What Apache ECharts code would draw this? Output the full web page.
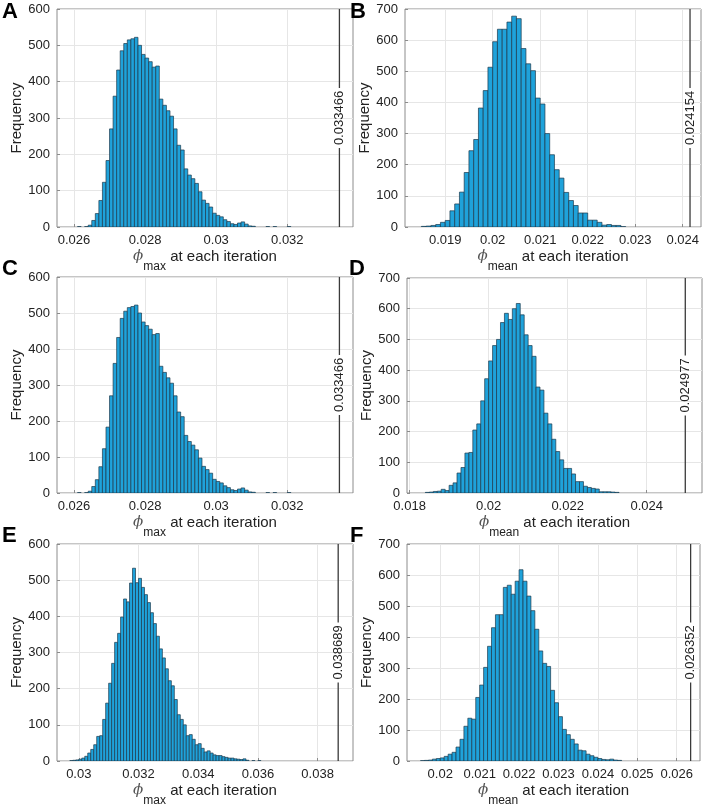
<!DOCTYPE html>
<html lang="en">
<head>
<meta charset="UTF-8">
<title>Histograms</title>
<style>
  html, body { margin: 0; padding: 0; background: #fff; }
  #main { width: 706px; height: 811px; }
</style>
</head>
<body>
<div id="main"></div>
<script src="https://cdn.jsdelivr.net/npm/echarts@6/dist/echarts.min.js"></script>
<script>
// bin width of every histogram
var binWidth = 0.0001;

// A: phi_max
var startA = 0.0261;
var countsA = [1, 0, 1, 5, 18, 37, 73, 123, 183, 270, 360, 432, 485, 505, 515, 518, 522, 500, 475, 465,
  455, 440, 443, 352, 335, 320, 305, 270, 225, 212, 160, 143, 133, 120, 97, 74, 65, 55, 38, 32,
  28, 20, 15, 9, 7, 11, 14, 8, 3, 2, 0, 0, 0, 1, 0, 1, 0, 0, 0, 1];
// B: phi_mean
var startB = 0.0185;
var countsB = [2, 3, 5, 8, 15, 21, 52, 74, 112, 175, 245, 281, 382, 438, 513, 595, 635, 635, 658, 677,
  669, 573, 524, 502, 414, 395, 300, 232, 184, 157, 111, 85, 69, 45, 45, 22, 22, 15, 6, 8, 5, 5, 1];
// C: phi_max
var startC = 0.0261;
var countsC = [1, 0, 1, 5, 18, 37, 73, 123, 183, 270, 360, 432, 485, 505, 515, 518, 522, 500, 475, 465,
  455, 440, 443, 352, 335, 320, 305, 270, 225, 212, 160, 143, 133, 120, 97, 74, 65, 55, 38, 32,
  28, 20, 15, 9, 7, 11, 14, 8, 3, 2, 0, 0, 0, 1, 0, 1, 0, 0, 0, 1];
// D: phi_mean
var startD = 0.0184;
var countsD = [2, 3, 5, 6, 12, 8, 25, 33, 65, 83, 130, 132, 205, 225, 300, 372, 430, 480, 500, 555,
  585, 565, 600, 617, 580, 515, 480, 445, 345, 335, 260, 225, 175, 135, 108, 80, 80, 62, 37, 37,
  22, 18, 15, 13, 4, 4, 4, 3, 2];
// E: phi_max
var startE = 0.0297;
var countsE = [1, 2, 3, 5, 8, 13, 22, 32, 45, 68, 70, 115, 160, 215, 270, 328, 353, 398, 448, 440,
  492, 533, 493, 505, 480, 460, 438, 410, 380, 345, 310, 285, 255, 222, 208, 170, 128, 115, 100, 70,
  73, 60, 45, 48, 35, 25, 28, 22, 17, 15, 15, 12, 10, 8, 8, 6, 5, 4, 6, 2, 0, 1, 0, 1];
// F: phi_mean
var startF = 0.0195;
var countsF = [1, 2, 3, 6, 8, 10, 15, 22, 28, 45, 70, 112, 138, 135, 205, 245, 302, 370, 430, 472,
  472, 560, 567, 538, 580, 617, 580, 532, 485, 425, 355, 315, 305, 228, 188, 143, 102, 85, 70, 55,
  35, 33, 22, 17, 12, 8, 5, 4, 6, 3, 2];

// vertical reference lines
var lineValues = [0.033466, 0.024154, 0.033466, 0.024977, 0.038689, 0.026352];
var lineLabels = ['0.033466', '0.024154', '0.033466', '0.024977', '0.038689', '0.026352'];

// tick labels
var xTicksMax = [0.026, 0.028, 0.03, 0.032];
var xTicksB = [0.019, 0.02, 0.021, 0.022, 0.023, 0.024];
var xTicksD = [0.018, 0.02, 0.022, 0.024];
var xTicksE = [0.03, 0.032, 0.034, 0.036, 0.038];
var xTicksF = [0.02, 0.021, 0.022, 0.023, 0.024, 0.025, 0.026];
var yMaxes = [600, 700, 600, 700, 600, 700];
var letters = ['A', 'B', 'C', 'D', 'E', 'F'];
var subs = ['max', 'mean', 'max', 'mean', 'max', 'mean'];

var starts = [startA, startB, startC, startD, startE, startF];
var counts = [countsA, countsB, countsC, countsD, countsE, countsF];
var xTicks = [xTicksMax, xTicksB, xTicksMax, xTicksD, xTicksE, xTicksF];

// layout
var grids = [
  {left: 57, top: 9, width: 296, height: 218},
  {left: 405, top: 9, width: 296, height: 218},
  {left: 57, top: 277, width: 296, height: 216},
  {left: 407, top: 278, width: 295, height: 215},
  {left: 57, top: 544, width: 296, height: 217},
  {left: 407, top: 544, width: 293, height: 217}
];
var xRanges = [
  [0.025522, 0.033848], [0.018154, 0.024385], [0.025522, 0.033848],
  [0.017934, 0.025400], [0.029270, 0.039185], [0.019156, 0.026590]
];
var letterPos = [[2, 1], [350, 1], [2, 258], [349, 258], [2, 525], [350, 525]];

var FONT = 'Liberation Sans';
var TXT = '#222';
var FRAME = '#8c8c8c';

function fmt(v) { return String(+(+v).toFixed(6)); }

function histRender(params, api) {
  var x0 = api.value(0), x1 = api.value(1), c = api.value(2);
  if (!c) return null;
  var p0 = api.coord([x0, c]);
  var p1 = api.coord([x1, 0]);
  return {
    type: 'rect',
    shape: {x: p0[0], y: p0[1], width: p1[0] - p0[0], height: p1[1] - p0[1]},
    style: {fill: '#1fa2da', stroke: '#1d3a4c', lineWidth: 0.7}
  };
}

function lineRender(params, api) {
  var cs = params.coordSys;
  var x = api.coord([api.value(0), 0])[0];
  var mid = cs.y + cs.height / 2;
  var half = 30;
  var txt = lineLabels[params.seriesIndex / 2 | 0];
  return {
    type: 'group',
    children: [
      {type: 'line', shape: {x1: x, y1: cs.y, x2: x, y2: mid - half},
        style: {stroke: '#3a3a3a', lineWidth: 1.3}},
      {type: 'line', shape: {x1: x, y1: mid + half, x2: x, y2: cs.y + cs.height},
        style: {stroke: '#3a3a3a', lineWidth: 1.3}},
      {type: 'text', x: x, y: mid, rotation: Math.PI / 2,
        style: {text: txt, fontSize: 13, fontFamily: FONT, fill: TXT,
          align: 'center', verticalAlign: 'middle'}}
    ]
  };
}

var option = {
  animation: false,
  backgroundColor: '#fff',
  title: [],
  grid: [],
  xAxis: [],
  yAxis: [],
  series: []
};

for (var i = 0; i < 6; i++) {
  var g = grids[i];
  option.grid.push({left: g.left, top: g.top, width: g.width, height: g.height,
    show: true, borderColor: FRAME, borderWidth: 1, backgroundColor: '#fff'});

  option.title.push({text: letters[i], left: letterPos[i][0], top: letterPos[i][1], padding: 0,
    textStyle: {fontSize: 22, fontWeight: 'bold', fontFamily: FONT, color: '#000'}});

  option.xAxis.push({
    type: 'value', gridIndex: i, min: xRanges[i][0], max: xRanges[i][1],
    axisLine: {show: false},
    axisTick: {show: true, inside: true, length: 3, customValues: xTicks[i],
      lineStyle: {color: FRAME}},
    axisLabel: {customValues: xTicks[i], formatter: fmt, fontSize: 13, fontFamily: FONT,
      color: TXT, margin: 7},
    splitLine: {show: true, lineStyle: {color: '#e6e6e6', width: 1}},
    name: '{phi|ϕ}{sub|' + subs[i] + '}{t| at each iteration}',
    nameLocation: 'middle', nameGap: 22,
    nameTextStyle: {
      rich: {
        phi: {fontSize: 15, fontFamily: 'DejaVu Serif', fontStyle: 'italic', color: '#555',
          lineHeight: 18, verticalAlign: 'top'},
        sub: {fontSize: 12, fontFamily: FONT, color: TXT, lineHeight: 12,
          padding: [12, 0, 0, 0], verticalAlign: 'top'},
        t: {fontSize: 15, fontFamily: FONT, color: TXT, lineHeight: 18, verticalAlign: 'top'}
      }
    }
  });

  option.yAxis.push({
    type: 'value', gridIndex: i, min: 0, max: yMaxes[i], interval: 100,
    axisLine: {show: false},
    axisTick: {show: true, inside: true, length: 3, lineStyle: {color: FRAME}},
    axisLabel: {fontSize: 13, fontFamily: FONT, color: TXT, margin: 7},
    splitLine: {show: true, lineStyle: {color: '#e6e6e6', width: 1}},
    name: 'Frequency', nameLocation: 'middle', nameGap: 33,
    nameTextStyle: {fontSize: 15, fontFamily: FONT, color: TXT}
  });

  var bins = [];
  for (var k = 0; k < counts[i].length; k++) {
    var a = +(starts[i] + k * binWidth).toFixed(6);
    var b = +(starts[i] + (k + 1) * binWidth).toFixed(6);
    bins.push([a, b, counts[i][k]]);
  }
  option.series.push({
    type: 'custom', xAxisIndex: i, yAxisIndex: i,
    renderItem: histRender, encode: {x: [0, 1], y: 2},
    data: bins, clip: true, silent: true
  });
  option.series.push({
    type: 'custom', xAxisIndex: i, yAxisIndex: i,
    renderItem: lineRender, encode: {x: 0},
    data: [[lineValues[i]]], silent: true
  });
}

var myChart = echarts.init(document.getElementById('main'), null, {renderer: 'canvas'});
myChart.setOption(option);
</script>
</body>
</html>
